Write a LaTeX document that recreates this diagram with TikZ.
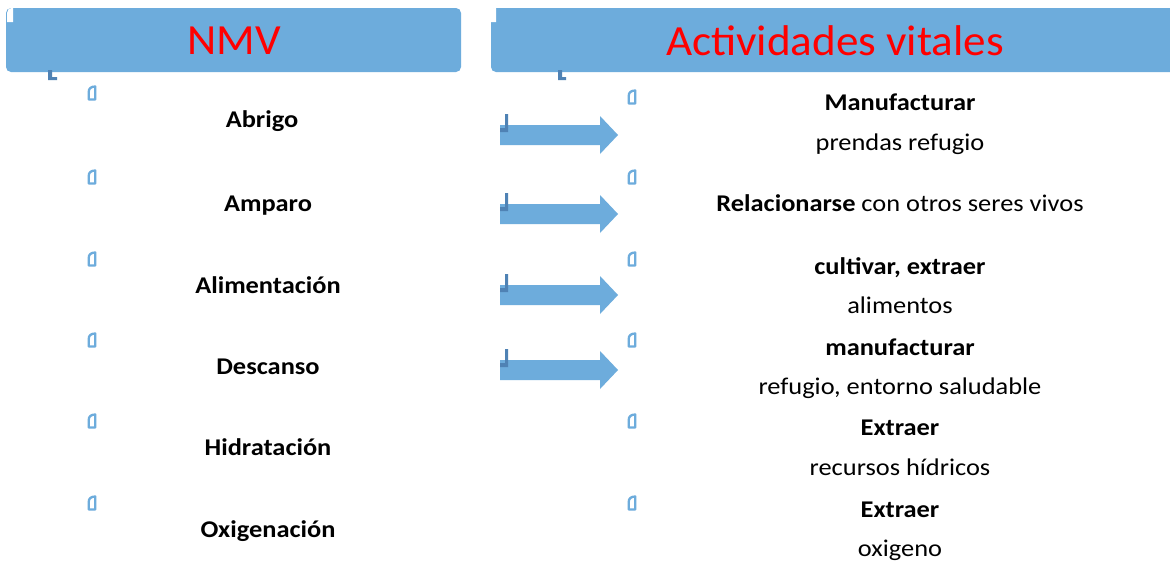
\documentclass[tikz,border=0pt]{standalone}
\usepackage{fontspec}
\setmainfont{Carlito}
\newfontfamily\bodyfont{Carlito}[FakeStretch=1.1]
\newfontfamily\titlefont{Carlito}[FakeStretch=1.05]
\definecolor{hblue}{HTML}{6DACDC}
\definecolor{dblue}{HTML}{4F82B4}
\definecolor{tred}{HTML}{FF0000}
\begin{document}
\begin{tikzpicture}[x=1pt,y=-1pt]
\tikzset{
  hdr/.style={fill=none, draw=none, inner sep=0pt, text=tred, font=\titlefont\fontsize{43}{50}\selectfont},
  item/.style={anchor=base, inner sep=0pt, font=\bodyfont\fontsize{24}{28}\selectfont\bfseries},
  act/.style={anchor=base, inner sep=0pt, font=\bodyfont\fontsize{24}{28}\selectfont},
  actb/.style={act, font=\bodyfont\fontsize{24}{28}\selectfont\bfseries},
  bul/.pic={\draw[hblue, line width=2.3pt, fill=white, line join=round] (-3.3,6.5) -- (-3.3,-1) .. controls (-3.3,-4.5) and (-1,-6.5) .. (3.3,-6.5) -- (3.3,6.5) -- cycle;},
  notch/.pic={\fill[white] (-3,7) -- (-3,-2) .. controls (-3,-5) and (-1,-7) .. (3,-7) -- (3,7) -- cycle;}
}
\useasboundingbox (0,0) rectangle (1170,563);
\fill[white] (0,0) rectangle (1170,563);
% headers
\fill[hblue, rounded corners=5pt] (6,8) rectangle (461,72);
\fill[hblue, rounded corners=5pt] (491,8) rectangle (1185,72);
\node[hdr] (h1) at (234,41) {NMV};
\node[hdr] (h2) at (835,41) {Actividades vitales};
\pic at (10,15) {notch};
\pic at (493,15) {notch};
\fill[dblue] (48,70) rectangle (52,80) (48,77) rectangle (57,80);
\fill[dblue] (558,70) rectangle (562,80) (558,77) rectangle (566,80);
% left items
\node[item] (n1) at (262,127) {Abrigo};
\node[item] (n2) at (268,211) {Amparo};
\node[item] (n3) at (268,293) {Alimentación};
\node[item] (n4) at (268,374) {Descanso};
\node[item] (n5) at (268,455) {Hidratación};
\node[item] (n6) at (268,537) {Oxigenación};
\foreach \y in {93,177,259,340,421,503} \pic at (92,\y) {bul};
\foreach \y in {97,177,259,340,421,503} \pic at (632,\y) {bul};
% right items
\node[actb] (a1) at (900,110) {Manufacturar};
\node[act] (a1b) at (900,150) {prendas refugio};
\node[act] (a2) at (900,211) {\textbf{Relacionarse} con otros seres vivos};
\node[actb] (a3) at (900,274) {cultivar, extraer};
\node[act] (a3b) at (900,313) {alimentos};
\node[actb] (a4) at (900,355) {manufacturar};
\node[act] (a4b) at (900,394) {refugio, entorno saludable};
\node[actb] (a5) at (900,435) {Extraer};
\node[act] (a5b) at (900,475) {recursos hídricos};
\node[actb] (a6) at (900,517) {Extraer};
\node[act] (a6b) at (900,556) {oxigeno};
% arrows
\foreach \c in {135,214,295,370} {
  \fill[hblue] (500,\c-10) -- (600,\c-10) -- (600,\c-19) -- (618,\c) -- (600,\c+19) -- (600,\c+10) -- (500,\c+10) -- cycle;
  \fill[dblue] (505,\c-21) rectangle (508,\c-3) (500,\c-7) rectangle (508,\c-3);
}
\end{tikzpicture}
\end{document}
